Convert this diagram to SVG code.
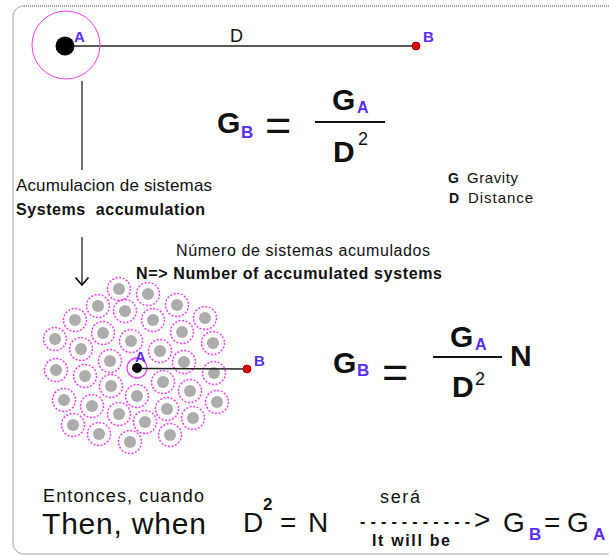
<svg xmlns="http://www.w3.org/2000/svg" xmlns:xlink="http://www.w3.org/1999/xlink" width="609" height="556" viewBox="0 0 609 556">
<style>
text{font-family:"Liberation Sans",Arial,sans-serif;fill:#111}
.b{font-weight:bold}
.blue{fill:#5a2cff;font-weight:bold}
.big{font-size:30px;font-weight:bold}
.eq{font-size:45px;font-weight:normal}
.sub{font-size:17px}
.sup{font-size:18px}
.line{stroke:#222;stroke-width:1.3;fill:none}
.bar{stroke:#111;stroke-width:2.2}
.red{fill:#e00000;stroke:#8a0000;stroke-width:0.8}
</style>
<defs>
<g id="sys">
<circle r="11.5" fill="none" stroke="#f23cf2" stroke-width="1.5" stroke-dasharray="2 1.6"/>
<circle r="6" fill="#acacac"/>
</g>
</defs>
<rect x="13" y="6" width="640" height="548" rx="11" fill="none" stroke="#444" stroke-width="1" stroke-dasharray="1 1"/>

<g id="connectors">
<line class="line" x1="65" y1="46" x2="416" y2="46"/>
<line class="line" x1="82" y1="81" x2="82" y2="170"/>
<line class="line" x1="82" y1="237" x2="82" y2="284"/>
<path d="M75.5 277.5 L82 285 L88.5 277.5" fill="none" stroke="#111" stroke-width="1.8"/>
</g>

<g id="node-A-top">
<circle cx="66" cy="45" r="34" fill="none" stroke="#f33cf3" stroke-width="1"/>
<circle cx="65" cy="46" r="9.5" fill="#000"/>
<text x="74" y="42" class="blue" font-size="15">A</text>
</g>
<g id="node-B-top">
<circle cx="416" cy="46" r="4" class="red"/>
<text x="423" y="42" class="blue" font-size="15">B</text>
</g>
<g id="label-D"><text x="230" y="42" font-size="18">D</text></g>

<g id="formula-1">
<text x="217" y="133" class="big">G</text>
<text x="241" y="138" class="blue sub">B</text>
<text x="265" y="140" class="eq">=</text>
<line class="bar" x1="315" y1="122" x2="385" y2="122"/>
<text x="332" y="110" class="big">G</text>
<text x="357" y="113" class="blue" font-size="16">A</text>
<text x="333" y="162" class="big">D</text>
<text x="358" y="145" class="sup">2</text>
</g>

<g id="legend">
<text x="448" y="183" font-size="14"><tspan class="b">G</tspan></text>
<text x="467" y="183" font-size="15" fill="#333" textLength="51">Gravity</text>
<text x="449" y="203" font-size="14"><tspan class="b">D</tspan></text>
<text x="468" y="203" font-size="15" fill="#333" textLength="65">Distance</text>
</g>

<g id="label-accumulation">
<text x="16" y="191" font-size="17" textLength="196">Acumulacion de sistemas</text>
<text x="16" y="215" font-size="16" class="b" textLength="189" xml:space="preserve">Systems  accumulation</text>
</g>

<g id="label-number">
<text x="176" y="256" font-size="16" fill="#333" textLength="254">Número de sistemas acumulados</text>
<text x="136" y="279" font-size="16" class="b" textLength="306">N=&gt; Number of accumulated systems</text>
</g>

<g id="cluster">
<use xlink:href="#sys" x="119" y="289"/><use xlink:href="#sys" x="148" y="294"/><use xlink:href="#sys" x="98" y="306"/>
<use xlink:href="#sys" x="125" y="311"/><use xlink:href="#sys" x="177" y="305"/><use xlink:href="#sys" x="75" y="320"/>
<use xlink:href="#sys" x="153" y="320"/><use xlink:href="#sys" x="205" y="318"/><use xlink:href="#sys" x="103" y="333"/>
<use xlink:href="#sys" x="182" y="332"/><use xlink:href="#sys" x="55" y="339"/><use xlink:href="#sys" x="131" y="341"/>
<use xlink:href="#sys" x="81" y="349"/><use xlink:href="#sys" x="160" y="351"/><use xlink:href="#sys" x="213" y="343"/>
<use xlink:href="#sys" x="110" y="361"/><use xlink:href="#sys" x="184" y="362"/><use xlink:href="#sys" x="56" y="370"/>
<use xlink:href="#sys" x="85" y="376"/><use xlink:href="#sys" x="163" y="382"/><use xlink:href="#sys" x="214" y="373"/>
<use xlink:href="#sys" x="111" y="386"/><use xlink:href="#sys" x="137" y="396"/><use xlink:href="#sys" x="190" y="391"/>
<use xlink:href="#sys" x="64" y="400"/><use xlink:href="#sys" x="92" y="406"/><use xlink:href="#sys" x="217" y="402"/>
<use xlink:href="#sys" x="119" y="414"/><use xlink:href="#sys" x="167" y="409"/><use xlink:href="#sys" x="145" y="422"/>
<use xlink:href="#sys" x="193" y="418"/><use xlink:href="#sys" x="73" y="425"/><use xlink:href="#sys" x="99" y="434"/>
<use xlink:href="#sys" x="170" y="435"/><use xlink:href="#sys" x="130" y="442"/>
</g>

<g id="node-A-cluster">
<circle cx="137" cy="368" r="10" fill="#fff" stroke="#f33cf3" stroke-width="1.3"/>
<circle cx="137" cy="368" r="5" fill="#000"/>
<text x="135" y="362" class="blue" font-size="15">A</text>
</g>
<g id="connector-cluster"><line class="line" x1="142" y1="368.5" x2="247" y2="369"/></g>
<g id="node-B-cluster">
<circle cx="247" cy="369" r="4" class="red"/>
<text x="254" y="366" class="blue" font-size="15">B</text>
</g>

<g id="formula-2">
<text x="333" y="373" class="big">G</text>
<text x="357" y="376" class="blue sub">B</text>
<text x="382" y="387" class="eq">=</text>
<line class="bar" x1="433" y1="357" x2="502" y2="357"/>
<text x="450" y="347" class="big">G</text>
<text x="475" y="350" class="blue" font-size="16">A</text>
<text x="452" y="397" class="big">D</text>
<text x="475" y="385" class="sup">2</text>
<text x="510" y="366" class="big">N</text>
</g>

<g id="conclusion">
<text x="43" y="502" font-size="18" fill="#222" textLength="161">Entonces, cuando</text>
<text x="42" y="534" font-size="30" textLength="164">Then, when</text>
<text x="243" y="532" font-size="28">D</text>
<text x="263" y="510" font-size="17" class="b">2</text>
<text x="280" y="532" font-size="28">=</text>
<text x="308" y="532" font-size="28">N</text>
<text x="380" y="503" font-size="18" fill="#333" textLength="40">será</text>
<text x="360" y="527" font-size="16" class="b" textLength="110">-----------</text>
<text x="474" y="529" font-size="28">&gt;</text>
<text x="372" y="546" font-size="16" class="b" textLength="78">It will be</text>
<text x="503" y="532" font-size="28">G</text>
<text x="529" y="540" class="blue" font-size="17">B</text>
<text x="544" y="532" font-size="28">=</text>
<text x="567" y="532" font-size="28">G</text>
<text x="593" y="540" class="blue" font-size="17">A</text>
</g>
</svg>
